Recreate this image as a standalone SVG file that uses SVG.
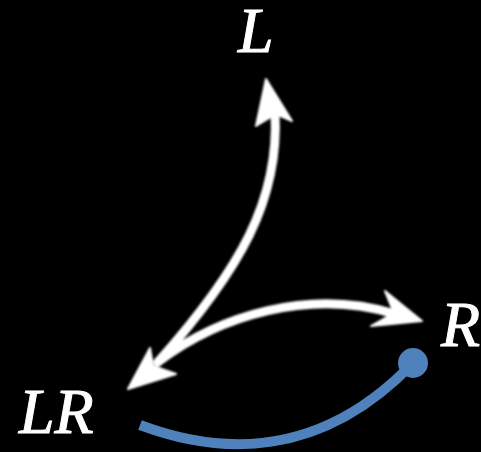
<svg xmlns="http://www.w3.org/2000/svg" width="481" height="452" viewBox="0 0 481 452">
<defs>
<filter id="glow" x="-20%" y="-20%" width="140%" height="140%">
<feGaussianBlur in="SourceGraphic" stdDeviation="1.2"/>
</filter>
</defs>
<style>
.lbl{font-family:"Liberation Serif","Times New Roman",serif;font-style:italic;font-size:64px;fill:#ffffff;stroke:#ffffff;stroke-width:1}
.wline{fill:none;stroke:#ffffff;stroke-width:9;stroke-linecap:round}
.whead{fill:#ffffff;stroke:#ffffff;stroke-width:2;stroke-linejoin:round}
.bline{fill:none;stroke:#4f81bd;stroke-width:10}
</style>
<rect width="481" height="452" fill="#000000"/>
<g id="connectors">
<g filter="url(#glow)">
<path class="wline" d="M 275 112 C 280 200, 240 270, 158 362"/>
<path class="wline" d="M 158 362 C 220 315, 310 288, 395 314"/>
<polygon class="whead" points="266,79 292,121 276,114 256,126"/>
<polygon class="whead" points="128,389 150,348 153,366 176,374"/>
<polygon class="whead" points="422,321 385,291 394,313 371,326"/>
</g>
<path class="bline" d="M 140 425 C 220 455, 320 460, 413 363"/>
<circle cx="413" cy="363" r="15" fill="#4f81bd"/>
</g>
<g id="node-L"><text class="lbl" x="238" y="52">L</text></g>
<g id="node-R"><text class="lbl" x="441" y="346">R</text></g>
<g id="node-LR"><text class="lbl" x="19" y="433">LR</text></g>
</svg>
